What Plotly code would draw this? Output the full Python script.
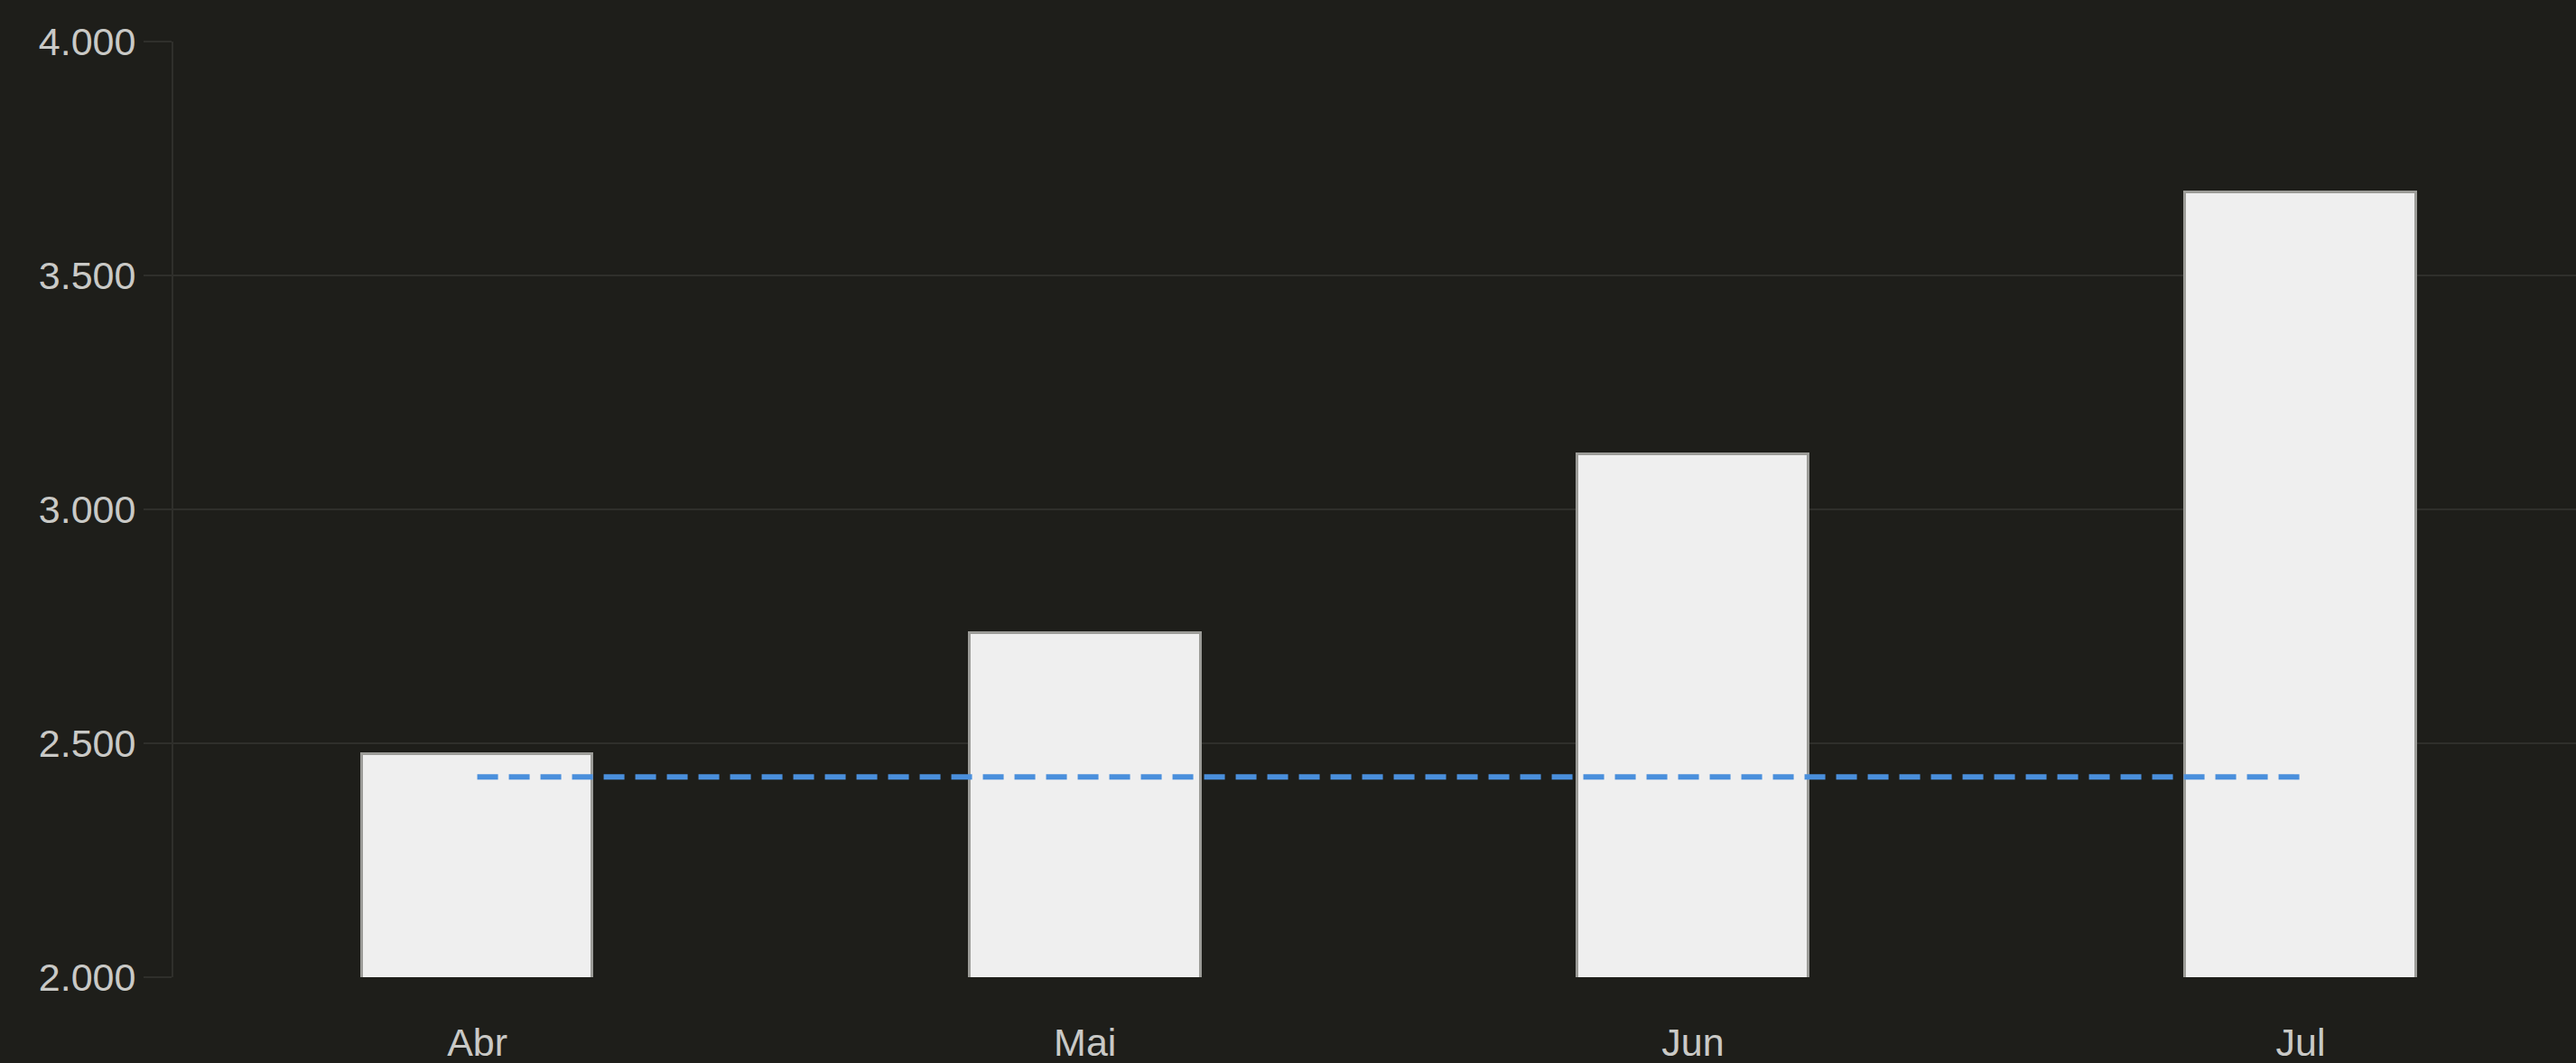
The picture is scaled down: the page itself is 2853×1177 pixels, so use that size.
import plotly.graph_objects as go

months = ["Abr", "Mai", "Jun", "Jul"]
values = [2477, 2736, 3117, 3677]
reference = [2428, 2428, 2428, 2428]
y_ticks = [2000, 2500, 3000, 3500, 4000]
y_tick_labels = ["2.000", "2.500", "3.000", "3.500", "4.000"]

bg = "#1e1e1a"
grid = "#2f2f2b"
text_col = "#c9c9c6"

fig = go.Figure()
fig.add_trace(go.Bar(
    x=months, y=values, width=0.38,
    marker=dict(color="#efefef", line=dict(color="#9c9c98", width=3)),
    showlegend=False, hoverinfo="skip",
))
fig.add_trace(go.Scatter(
    x=months, y=reference, mode="lines",
    line=dict(color="#4a8fdc", width=6, dash="23px,12px"),
    showlegend=False, hoverinfo="skip",
))

fig.update_layout(
    width=2853, height=1177,
    paper_bgcolor=bg, plot_bgcolor=bg,
    margin=dict(l=192, r=0, t=46, b=95),
    font=dict(family="Liberation Sans, Arial, Helvetica, sans-serif", size=43, color=text_col),
    bargap=0,
)
fig.update_xaxes(
    range=[-0.5, 3.453], showgrid=False, showline=False, zeroline=False,
    ticks="outside", ticklen=34, tickcolor="rgba(0,0,0,0)",
    tickfont=dict(size=43, color=text_col),
)
fig.update_yaxes(
    range=[2000, 4000], tickvals=y_ticks, ticktext=y_tick_labels,
    showgrid=True, gridcolor=grid, gridwidth=2,
    showline=True, linecolor=grid, linewidth=2,
    zeroline=False,
    ticks="outside", ticklen=31, tickcolor=grid, tickwidth=2,
    tickfont=dict(size=43, color=text_col),
)

fig.write_html(
    "out.html",
    config={"displayModeBar": False},
    post_script="document.body.style.margin='0';document.body.style.background='%s';" % bg,
)
